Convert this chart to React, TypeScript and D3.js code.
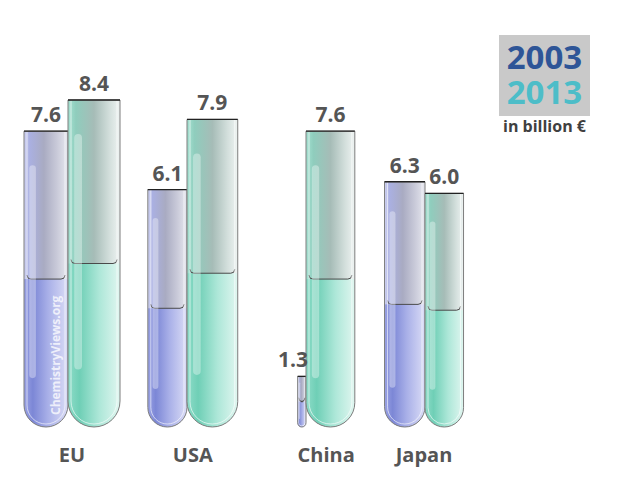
import React from 'react';
import * as d3 from 'd3';

const categories = ['EU', 'USA', 'China', 'Japan'];
const years = ['2003', '2013'];
const values2003 = [7.6, 6.1, 1.3, 6.3];
const values2013 = [8.4, 7.9, 7.6, 6.0];
const valueLabels2003 = ['7.6', '6.1', '1.3', '6.3'];
const valueLabels2013 = ['8.4', '7.9', '7.6', '6.0'];

const W = 629;
const H = 500;
const baseline = 427;
const fillShare = 0.5;
const font = '"Open Sans", "DejaVu Sans", sans-serif';

// test tube outline: flat top, round bottom
const tubePath = (x0: number, x1: number, top: number, bottom: number) => {
  const r = (x1 - x0) / 2;
  return `M${x0},${top}L${x0},${bottom - r}A${r},${r} 0 0 0 ${x1},${bottom - r}L${x1},${top}Z`;
};

export default function App() {
  const x = d3.scalePoint<string>().domain(categories).range([68, 425]);
  const y = d3.scaleLinear().domain([0, 8.4]).range([baseline, 100]);

  const tubes = categories.flatMap((c, i) => {
    const split = x(c) as number;
    const h03 = baseline - y(values2003[i]);
    const h13 = baseline - y(values2013[i]);
    const w03 = Math.min(44, h03 * 0.165);
    const w13 = Math.min(52, h13 * 0.165);
    return [
      { key: `${c}-03`, kind: 'blue', x0: split - w03, x1: split, top: y(values2003[i]), label: valueLabels2003[i] },
      { key: `${c}-13`, kind: 'green', x0: split, x1: split + w13, top: y(values2013[i]), label: valueLabels2013[i] },
    ];
  });

  const catX = categories.map((c, i) => (tubes[i * 2].x0 + tubes[i * 2 + 1].x1) / 2);
  const eu03 = tubes[0];

  return (
    <svg width={W} height={H} style={{ position: 'absolute', left: 0, top: 0, background: '#fff' }}>
      <defs>
        <linearGradient id="blueEmpty" x1="0" x2="1" y1="0" y2="0">
          <stop offset="0" stopColor="#d2d5f3" />
          <stop offset="0.12" stopColor="#aab0e2" />
          <stop offset="0.45" stopColor="#a9abc2" />
          <stop offset="0.75" stopColor="#c9cad9" />
          <stop offset="1" stopColor="#e6e7ef" />
        </linearGradient>
        <linearGradient id="blueLiquid" x1="0" x2="1" y1="0" y2="0">
          <stop offset="0" stopColor="#9aa2e4" />
          <stop offset="0.2" stopColor="#7c87d6" />
          <stop offset="0.55" stopColor="#a9b0e8" />
          <stop offset="1" stopColor="#dadcf6" />
        </linearGradient>
        <linearGradient id="greenEmpty" x1="0" x2="1" y1="0" y2="0">
          <stop offset="0" stopColor="#a6e2d2" />
          <stop offset="0.15" stopColor="#8fcdbd" />
          <stop offset="0.5" stopColor="#a6bcb7" />
          <stop offset="0.8" stopColor="#d3dfdc" />
          <stop offset="1" stopColor="#eef3f2" />
        </linearGradient>
        <linearGradient id="greenLiquid" x1="0" x2="1" y1="0" y2="0">
          <stop offset="0" stopColor="#8edcc8" />
          <stop offset="0.22" stopColor="#6fcfb6" />
          <stop offset="0.6" stopColor="#ade7d8" />
          <stop offset="1" stopColor="#e0f6f0" />
        </linearGradient>
        {tubes.map((t) => (
          <clipPath id={`clip-${t.key}`} key={t.key}>
            <path d={tubePath(t.x0, t.x1, t.top, baseline)} />
          </clipPath>
        ))}
      </defs>

      {tubes.map((t) => {
        const w = t.x1 - t.x0;
        const level = baseline - (baseline - t.top) * fillShare;
        const inset = Math.min(3, w * 0.12);
        const hlW = Math.max(1.5, w * 0.15);
        return (
          <g key={t.key}>
            <g clipPath={`url(#clip-${t.key})`}>
              <rect x={t.x0} y={t.top} width={w} height={baseline - t.top} fill={`url(#${t.kind}Empty)`} />
              <rect x={t.x0} y={level} width={w} height={baseline - level} fill={`url(#${t.kind}Liquid)`} />
              <path
                d={`M${t.x0 + inset},${level - 4}Q${t.x0 + inset},${level} ${t.x0 + inset + 4},${level}L${t.x1 - inset - 4},${level}Q${t.x1 - inset},${level} ${t.x1 - inset},${level - 4}`}
                fill="none"
                stroke="#4a4a4a"
                strokeWidth={1}
              />
              <rect
                x={t.x0 + w * 0.12}
                y={t.top + Math.min(34, (baseline - t.top) * 0.12)}
                width={hlW}
                height={(baseline - t.top) * 0.72}
                rx={hlW / 2}
                fill="#fff"
                opacity={0.35}
              />
            </g>
            <path
              d={tubePath(t.x0 + inset, t.x1 - inset, t.top, baseline - inset)}
              fill="none"
              stroke="#ffffff"
              strokeOpacity={0.6}
              strokeWidth={1}
            />
            <path d={tubePath(t.x0, t.x1, t.top, baseline)} fill="none" stroke="#7d7d7d" strokeWidth={1} />
            <line x1={t.x0} x2={t.x1} y1={t.top} y2={t.top} stroke="#222" strokeWidth={1.3} />
          </g>
        );
      })}

      {/* value labels on top of everything; narrow tubes get right-aligned labels */}
      {tubes.map((t) => {
        const narrow = t.x1 - t.x0 < 20;
        return (
          <text
            key={`lbl-${t.key}`}
            x={narrow ? t.x1 + 2 : (t.x0 + t.x1) / 2}
            y={t.top - 9}
            textAnchor={narrow ? 'end' : 'middle'}
            fontFamily={font}
            fontWeight="bold"
            fontSize={21}
            fill="#555"
          >
            {t.label}
          </text>
        );
      })}

      <text
        transform={`translate(${eu03.x1 - 8},${baseline - 12}) rotate(-90)`}
        fontFamily={font}
        fontWeight="bold"
        fontSize={12}
        fill="#fff"
        opacity={0.75}
      >
        ChemistryViews.org
      </text>

      {categories.map((c, i) => (
        <text
          key={c}
          x={catX[i]}
          y={462}
          textAnchor="middle"
          fontFamily={font}
          fontWeight="bold"
          fontSize={20}
          fill="#555"
        >
          {c}
        </text>
      ))}

      <rect x={499} y={35} width={91} height={81} fill="#c9c9c9" />
      <text textAnchor="middle" fontFamily={font} fontWeight="bold" fontSize={33}>
        {years.map((yr, i) => (
          <tspan key={yr} x={544.5} y={69 + i * 35} fill={i === 0 ? '#2e5597' : '#4dbdc8'}>
            {yr}
          </tspan>
        ))}
      </text>
      <text x={544.5} y={132} textAnchor="middle" fontFamily={font} fontWeight="bold" fontSize={16} fill="#404040">
        in billion €
      </text>
    </svg>
  );
}
